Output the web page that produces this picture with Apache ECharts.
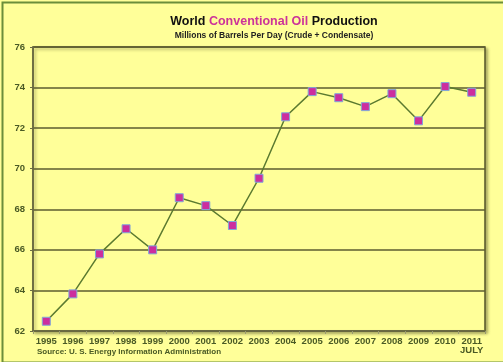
<!DOCTYPE html>
<html><head><meta charset="utf-8">
<script src="https://cdn.jsdelivr.net/npm/echarts@6/dist/echarts.min.js"></script>
<style>html,body{margin:0;padding:0;background:#ffff99;}#c{width:503px;height:362px;}</style>
</head><body><div id="c"></div>
<script>
const years = ['1995','1996','1997','1998','1999','2000','2001','2002','2003','2004','2005','2006','2007','2008','2009','2010','2011'];
const xTickLabels = ['1995','1996','1997','1998','1999','2000','2001','2002','2003','2004','2005','2006','2007','2008','2009','2010','2011\nJULY'];
const production = [62.48, 63.83, 65.8, 67.04, 66.0, 68.57, 68.18, 67.2, 69.53, 72.56, 73.8, 73.5, 73.06, 73.7, 72.36, 74.05, 73.77];
const yTicks = [62, 64, 66, 68, 70, 72, 74, 76];

const chart = echarts.init(document.getElementById('c'));
const labelColor = '#4a5a25';
chart.setOption({
  backgroundColor: '#ffff99',
  animation: false,
  title: {
    text: '{a|World }{b|Conventional Oil}{a| Production}',
    subtext: 'Millions of Barrels Per Day (Crude + Condensate)',
    left: 269, top: 10, textAlign: 'center', itemGap: 3,
    textStyle: {
      rich: {
        a: {fontFamily: 'Liberation Sans, Arial', fontWeight: 'bold', fontSize: 12.5, color: '#111'},
        b: {fontFamily: 'Liberation Sans, Arial', fontWeight: 'bold', fontSize: 12.5, color: '#cc3399'}
      }
    },
    subtextStyle: {fontFamily: 'Liberation Sans, Arial', fontWeight: 'bold', fontSize: 8.5, color: '#222'}
  },
  grid: {
    left: 33, right: 18, top: 47, bottom: 31,
    show: true, backgroundColor: '#ffff99', borderColor: '#55552a', borderWidth: 1.5,
    shadowColor: 'rgba(80,80,40,0.45)', shadowBlur: 3, shadowOffsetX: 2, shadowOffsetY: 2
  },
  xAxis: {
    type: 'category', data: years, boundaryGap: true,
    axisLine: {lineStyle: {color: '#6b6b45', width: 1.5}},
    axisTick: {show: true, interval: 0, length: 3, lineStyle: {color: '#9a9a70'}},
    axisLabel: {
      interval: 0, margin: 6, fontFamily: 'Liberation Sans, Arial', fontWeight: 'bold', fontSize: 9.5, color: labelColor, lineHeight: 9,
      formatter: (v, i) => xTickLabels[i]
    }
  },
  yAxis: {
    type: 'value', min: yTicks[0], max: yTicks[yTicks.length - 1], interval: 2,
    axisLine: {show: true, lineStyle: {color: '#6b6b45', width: 1.5}},
    axisTick: {show: true, length: 3, lineStyle: {color: '#6b6b45'}},
    splitLine: {lineStyle: {color: '#5c5c30', width: 1.5}},
    axisLabel: {margin: 8, fontFamily: 'Liberation Sans, Arial', fontWeight: 'bold', fontSize: 9.5, color: labelColor}
  },
  series: [{
    type: 'line', data: production,
    symbol: 'rect', symbolSize: 8,
    lineStyle: {color: '#5b7a30', width: 1.5},
    itemStyle: {color: '#cc2e9e', borderColor: '#80a8d8', borderWidth: 1}
  }],
  graphic: [
    {type: 'rect', left: 0, top: 0, shape: {width: 502, height: 360}, style: {fill: 'none', stroke: '#6b8e3a', lineWidth: 2}, z: 100},
    {type: 'text', left: 37, top: 348, style: {text: 'Source: U. S. Energy Information Administration', font: 'bold 8px Liberation Sans, Arial', fill: labelColor}}
  ]
});
</script></body></html>
